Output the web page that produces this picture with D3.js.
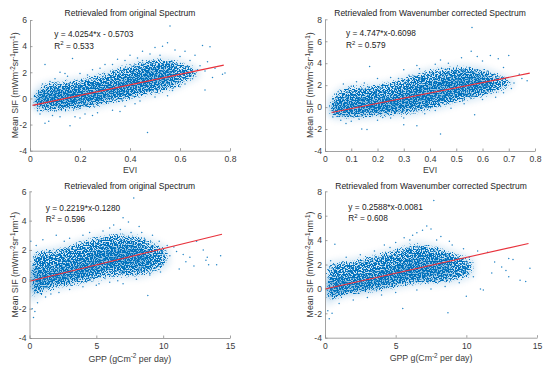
<!DOCTYPE html>
<html><head><meta charset="utf-8">
<script src="https://cdn.jsdelivr.net/npm/d3@7"></script>
<style>
body{margin:0;background:#fff}
svg{display:block}
text{font-family:"Liberation Sans",Arial,Helvetica,sans-serif}
</style>
</head><body>
<svg id="c" width="550" height="372"></svg>
<script>
// ---------------- DATA ----------------
const titles = ["Retrievaled from original Spectrum","Retrievaled from Wavenumber corrected Spectrum",
                "Retrievaled from original Spectrum","Retrievaled from Wavenumber corrected Spectrum"];
const eqTexts = ["y = 4.0254*x - 0.5703","y = 4.747*x-0.6098","y = 0.2219*x-0.1280","y = 0.2588*x-0.0081"];
const r2Values = ["0.533","0.579","0.596","0.608"];
const fitSlopes = [4.0254, 4.747, 0.2219, 0.2588];
const fitIntercepts = [-0.5703, -0.6098, -0.1280, -0.0081];
const fitXRanges = [[0.01,0.775],[0.025,0.78],[0,14.4],[0,14.4]];

const evi1Ticks = [0,0.2,0.4,0.6,0.8];
const evi2Ticks = [0,0.1,0.2,0.3,0.4,0.5,0.6,0.7,0.8];
const gppTicks = [0,5,10,15];
const sif6Ticks = [-4,-2,0,2,4,6];
const sif8Ticks = [-4,-2,0,2,4,6,8];

// dense-cloud envelopes: [x, low, high]
const p1Outer = [[0.005,-0.7,0.4],[0.03,-1.1,1.0],[0.06,-1.2,1.3],[0.1,-1.2,1.4],[0.15,-1.1,1.5],[0.2,-1.0,1.65],[0.25,-0.85,1.85],[0.3,-0.65,2.15],[0.35,-0.45,2.5],[0.4,-0.25,2.8],[0.45,0.0,3.05],[0.5,0.2,3.2],[0.55,0.4,3.2],[0.6,0.8,3.0],[0.64,1.2,2.7],[0.68,1.6,2.3]];
const p1Core = [[0.02,-0.55,0.1],[0.05,-0.65,0.6],[0.1,-0.55,0.7],[0.15,-0.45,0.65],[0.2,-0.4,0.7],[0.25,-0.25,0.8],[0.3,-0.05,1.0],[0.35,0.25,1.3],[0.4,0.55,1.7],[0.45,0.8,2.0],[0.5,1.0,2.2],[0.55,1.15,2.3],[0.58,1.3,2.1]];
const p2Outer = [[0.01,-0.9,0.7],[0.04,-1.2,1.6],[0.07,-1.25,2.0],[0.12,-1.2,2.1],[0.18,-1.1,2.2],[0.24,-1.0,2.35],[0.3,-0.9,2.9],[0.35,-0.75,3.3],[0.4,-0.5,3.6],[0.45,-0.2,3.8],[0.5,0.2,3.9],[0.55,0.45,3.9],[0.6,0.75,3.7],[0.64,1.0,3.4],[0.68,1.4,3.0],[0.72,1.9,2.6]];
const p2Core = [[0.025,-0.6,0.2],[0.05,-0.65,0.6],[0.1,-0.6,0.8],[0.15,-0.55,0.85],[0.2,-0.5,0.9],[0.25,-0.45,0.95],[0.3,-0.25,1.3],[0.35,0.1,1.8],[0.4,0.45,2.2],[0.45,0.75,2.5],[0.5,1.1,2.8],[0.55,1.3,3.0],[0.6,1.5,2.9],[0.63,1.7,2.6]];
const p3Outer = [[0.0,-1.6,1.9],[0.4,-1.5,2.0],[1,-1.0,2.1],[2,-0.75,2.2],[3,-0.6,2.5],[4,-0.4,2.8],[5,-0.2,3.0],[6,0.0,3.2],[7,0.05,3.3],[8,0.0,3.1],[9,0.2,2.8],[10,0.6,2.4],[10.5,1.0,2.1]];
const p3Core = [[0.0,-0.9,1.0],[0.4,-0.75,0.8],[1,-0.35,0.6],[2,-0.25,0.7],[3,-0.05,0.95],[4,0.2,1.3],[5,0.55,1.7],[6,0.85,2.2],[7,0.9,2.3],[8,0.8,2.2],[9,0.9,1.8]];
const p4Outer = [[0.0,-1.4,2.1],[0.4,-1.3,2.3],[1,-0.8,2.4],[2,-0.6,2.5],[3,-0.45,2.8],[4,-0.3,3.1],[5,-0.1,3.4],[6,0.2,3.9],[7,0.25,3.9],[8,0.25,3.6],[9,0.4,3.2],[10,0.7,2.8],[10.6,1.1,2.5]];
const p4Core = [[0.0,-0.65,0.8],[0.4,-0.6,0.8],[1,-0.3,0.8],[2,-0.2,0.85],[3,0.0,1.05],[4,0.2,1.5],[5,0.5,1.9],[6,0.8,2.4],[7,0.9,2.6],[8,0.9,2.5],[9,1.1,2.2]];

// individually visible scattered points: [x, y]
const p1Points = [[0.56,5.55],[0.55,4.25],[0.69,4.05],[0.72,3.95],[0.06,2.6],[0.17,3.05],[0.47,-2.6],[0.16,-2.1],[0.06,-1.9],[0.075,-1.75],[0.7,0.65],[0.77,1.85],[0.78,1.95],[0.66,3.3],[0.62,3.6],[0.3,2.6],[0.25,2.2],[0.12,2.0],[0.35,3.0],[0.4,3.3],[0.45,3.6],[0.5,3.9],[0.53,4.0],[0.58,3.7],[0.64,2.9],[0.68,2.5],[0.71,2.8],[0.74,2.3],[0.66,1.9],[0.7,2.1],[0.73,1.6],[0.6,0.9],[0.57,0.6],[0.5,0.1],[0.42,-0.4],[0.38,-0.6],[0.33,-0.9],[0.27,-1.1],[0.22,-1.2],[0.18,-1.4],[0.12,-1.4],[0.09,-1.3],[0.04,-1.2],[0.03,-0.95],[0.2,-1.5],[0.25,-1.3],[0.1,1.5],[0.15,1.7],[0.2,1.9],[0.08,1.3],[0.05,1.1],[0.28,2.3],[0.33,2.6],[0.38,2.9],[0.43,3.1],[0.48,3.4],[0.52,3.3],[0.6,3.2],[0.63,2.5],[0.67,2.2],[0.65,1.5],[0.62,1.1],[0.58,0.9],[0.55,0.2],[0.36,-1.0],[0.44,-0.2],[0.14,1.9],[0.23,1.8],[0.45,2.9],[0.61,2.2]];
const p2Points = [[0.56,7.25],[0.557,5.1],[0.17,3.7],[0.44,-2.45],[0.14,-2.0],[0.16,-2.05],[0.63,4.7],[0.66,4.4],[0.7,4.7],[0.74,3.0],[0.77,2.4],[0.72,2.2],[0.68,3.6],[0.6,4.2],[0.52,4.5],[0.47,4.0],[0.42,3.9],[0.36,3.5],[0.3,3.4],[0.32,2.9],[0.25,2.7],[0.2,2.6],[0.12,2.3],[0.07,2.1],[0.05,1.4],[0.1,1.9],[0.15,2.2],[0.03,-0.9],[0.06,-1.2],[0.1,-1.3],[0.13,-1.1],[0.2,-1.2],[0.25,-1.0],[0.3,-1.0],[0.35,-1.7],[0.38,-0.6],[0.42,-0.3],[0.48,-0.1],[0.53,0.3],[0.57,-0.7],[0.6,0.7],[0.65,0.9],[0.68,1.3],[0.71,1.7],[0.75,2.6],[0.62,3.3],[0.55,3.6],[0.5,3.4],[0.45,3.2],[0.4,3.1],[0.34,2.8],[0.28,2.6],[0.08,-1.5],[0.3,-1.6],[0.69,2.0],[0.66,2.6],[0.22,-0.95],[0.09,1.7],[0.44,4.3],[0.58,4.6],[0.35,3.8]];
const p3Points = [[7.8,5.55],[7.0,4.2],[6.3,3.7],[7.4,3.9],[8.2,3.6],[5.5,3.3],[6.0,3.5],[4.0,3.0],[3.0,2.8],[2.0,3.0],[1.0,2.7],[0.1,2.6],[0.5,2.3],[8.85,-1.1],[0.3,-2.6],[0.4,-2.2],[0.2,-2.0],[0.6,-1.6],[1.2,-1.2],[2.2,-0.9],[3.0,-0.7],[4.0,-0.5],[5.0,-0.4],[6.0,-0.2],[7.0,-0.3],[8.0,0.0],[9.0,0.3],[9.5,0.8],[10.0,1.0],[10.5,1.6],[11.0,1.9],[11.5,1.7],[12.0,1.5],[12.5,2.6],[13.0,2.0],[13.3,1.5],[13.4,1.0],[13.2,1.3],[14.0,1.0],[14.3,1.6],[12.3,0.9],[11.2,0.7],[10.3,2.3],[9.7,2.6],[9.2,3.0],[8.6,2.8],[10.8,2.2],[1.6,-1.0],[2.6,2.6],[4.5,3.2],[9.8,0.5],[11.7,1.2],[6.8,3.4],[7.6,3.2],[5.2,-0.3],[6.6,-0.1],[3.5,2.4],[8.4,3.2]];
const p4Points = [[7.7,7.25],[7.2,5.15],[6.9,4.8],[0.7,3.65],[8.7,-1.95],[0.3,-2.45],[0.5,-2.0],[0.2,-1.8],[1.0,-1.2],[2.0,-0.9],[3.0,-0.7],[4.0,-0.5],[5.0,-0.3],[5.5,-1.6],[6.5,-0.1],[7.5,0.0],[8.5,0.2],[9.5,0.5],[10.0,-0.6],[10.5,1.0],[11.0,0.0],[11.2,-0.1],[11.5,3.0],[12.0,2.2],[12.5,1.8],[13.0,2.5],[13.3,2.4],[13.8,0.7],[14.2,0.6],[14.5,1.7],[13.0,1.0],[12.8,1.5],[10.8,3.1],[9.8,3.3],[9.0,3.6],[8.2,4.3],[6.0,4.0],[5.0,3.8],[4.2,3.6],[3.5,3.1],[2.5,2.8],[1.5,2.6],[0.4,2.3],[6.5,4.6],[7.5,4.9],[10.2,2.6],[9.3,1.0],[11.8,1.3],[5.6,4.2],[6.2,4.4],[7.9,4.0],[4.6,3.4],[8.8,3.9]];

// ---------------- LAYOUT ----------------
const BLUE = "#0072BD", RED = "#e8323c", AX = "#8a8a8a", TXT = "#3a3a3a", FS = 8.6;
const svg = d3.select("#c");
const defs = svg.append("defs");
const f = defs.append("filter").attr("id","soft").attr("x","-20%").attr("y","-20%").attr("width","140%").attr("height","140%");
f.append("feGaussianBlur").attr("stdDeviation",3);
const f2 = defs.append("filter").attr("id","spk").attr("x","-20%").attr("y","-20%").attr("width","140%").attr("height","140%");
f2.append("feGaussianBlur").attr("in","SourceAlpha").attr("stdDeviation",4.5).attr("result","b");
f2.append("feTurbulence").attr("type","fractalNoise").attr("baseFrequency",0.75).attr("numOctaves",2).attr("seed",7).attr("result","t");
f2.append("feColorMatrix").attr("in","t").attr("type","matrix")
  .attr("values","0 0 0 0 0  0 0 0 0 0  0 0 0 0 0  1 0 0 0 0").attr("result","n");
f2.append("feComposite").attr("in","b").attr("in2","n").attr("operator","arithmetic")
  .attr("k1",1).attr("k2",0).attr("k3",0).attr("k4",0).attr("result","bn");
const ct = f2.append("feComponentTransfer").attr("in","bn").attr("result","th");
ct.append("feFuncA").attr("type","linear").attr("slope",9).attr("intercept",-3.6);
f2.append("feFlood").attr("flood-color",BLUE).attr("result","fl");
f2.append("feComposite").attr("in","fl").attr("in2","th").attr("operator","in");

const panels = [
  {l:30, r:230, t:20, b:150.7, xDom:[0,0.8], yDom:[-4,6], xTicks:evi1Ticks, yTicks:sif6Ticks,
   outer:p1Outer, core:p1Core, pts:p1Points, xlab:["EVI"], xlabY:170, titleY:16.3, eqX:54.3, eqY:37, ylabX:15},
  {l:325, r:535, t:19.3, b:151, xDom:[0,0.8], yDom:[-4,8], xTicks:evi2Ticks, yTicks:sif8Ticks,
   outer:p2Outer, core:p2Core, pts:p2Points, xlab:["EVI"], xlabY:170, titleY:16.3, eqX:346, eqY:36.3, ylabX:310},
  {l:29.5, r:230, t:191.3, b:338, xDom:[0,15], yDom:[-4,6], xTicks:gppTicks, yTicks:sif6Ticks,
   outer:p3Outer, core:p3Core, pts:p3Points, xlab:["GPP (gCm","-2"," per day)"], xlabY:358.5, titleY:188.5, eqX:45.7, eqY:210.7, ylabX:15},
  {l:325, r:537, t:191.3, b:337.7, xDom:[0,15], yDom:[-4,8], xTicks:gppTicks, yTicks:sif8Ticks,
   outer:p4Outer, core:p4Core, pts:p4Points, xlab:["GPP g(Cm","-2"," per day)"], xlabY:358, titleY:188.5, eqX:348.3, eqY:209.7, ylabX:310}
];

function richText(sel, parts, fs){
  parts.forEach((p,i)=>{
    const sup = i%2===1;
    sel.append("tspan").text(p)
      .attr("font-size", sup ? fs*0.72 : fs)
      .attr("dy", sup ? -3.2 : (i>0 ? 3.2 : 0));
  });
}

panels.forEach((o,i)=>{
  const x = d3.scaleLinear().domain(o.xDom).range([o.l,o.r]);
  const y = d3.scaleLinear().domain(o.yDom).range([o.b,o.t]);
  const g = svg.append("g");
  const cid = "clip"+i;
  defs.append("clipPath").attr("id",cid).append("rect")
    .attr("x",o.l+0.5).attr("y",o.t).attr("width",o.r-o.l).attr("height",o.b-o.t-0.5);
  const cg = g.append("g").attr("clip-path",`url(#${cid})`);
  const area = d3.area().x(d=>x(d[0])).y0(d=>y(d[1])).y1(d=>y(d[2])).curve(d3.curveBasis);
  cg.append("path").datum(o.outer).attr("d",area).attr("fill",BLUE).attr("opacity",0.14).attr("filter","url(#soft)");
  cg.append("path").datum(o.outer).attr("d",area).attr("fill",BLUE).attr("filter","url(#spk)");
  cg.append("path").datum(o.core).attr("d",area).attr("fill",BLUE).attr("opacity",0.35).attr("filter","url(#soft)");
  cg.selectAll("circle").data(o.pts).join("circle")
    .attr("cx",d=>x(d[0])).attr("cy",d=>y(d[1])).attr("r",0.75).attr("fill",BLUE).attr("opacity",0.85);
  const fx = fitXRanges[i];
  g.append("line")
    .attr("x1",x(fx[0])).attr("y1",y(fitSlopes[i]*fx[0]+fitIntercepts[i]))
    .attr("x2",x(fx[1])).attr("y2",y(fitSlopes[i]*fx[1]+fitIntercepts[i]))
    .attr("stroke",RED).attr("stroke-width",1.1);
  const xa = g.append("g").attr("transform",`translate(0,${o.b})`)
    .call(d3.axisBottom(x).tickValues(o.xTicks).tickSize(-2.5).tickSizeOuter(0).tickPadding(5).tickFormat(d=>String(d)));
  const ya = g.append("g").attr("transform",`translate(${o.l},0)`)
    .call(d3.axisLeft(y).tickValues(o.yTicks).tickSize(-2.5).tickSizeOuter(0).tickPadding(3).tickFormat(d=>String(d)));
  [xa,ya].forEach(a=>{
    a.select(".domain").attr("stroke",AX).attr("stroke-width",0.8);
    a.selectAll(".tick line").attr("stroke",AX).attr("stroke-width",0.8);
    a.selectAll(".tick text").attr("fill",TXT).attr("font-size",FS).attr("font-family",null);
  });
  g.append("text").attr("x",(o.l+o.r)/2).attr("y",o.titleY).attr("text-anchor","middle")
    .attr("font-size",8.5).attr("fill","#222").text(titles[i]);
  const xl = g.append("text").attr("x",(o.l+o.r)/2).attr("y",o.xlabY+3).attr("text-anchor","middle").attr("fill",TXT);
  richText(xl, o.xlab, 8.8);
  const yl = g.append("text").attr("transform",`translate(${o.ylabX+3},${(o.t+o.b)/2}) rotate(-90)`)
    .attr("text-anchor","middle").attr("fill",TXT);
  richText(yl, ["Mean SIF (mWm","-2","sr","-1","nm","-1",")"], 8.8);
  g.append("text").attr("x",o.eqX).attr("y",o.eqY).attr("font-size",8.3).attr("fill","#222").text(eqTexts[i]);
  const r2 = g.append("text").attr("x",o.eqX).attr("y",o.eqY+11.5).attr("fill","#222");
  richText(r2, ["R","2"," = "+r2Values[i]], 8.3);
});
</script>
</body></html>
